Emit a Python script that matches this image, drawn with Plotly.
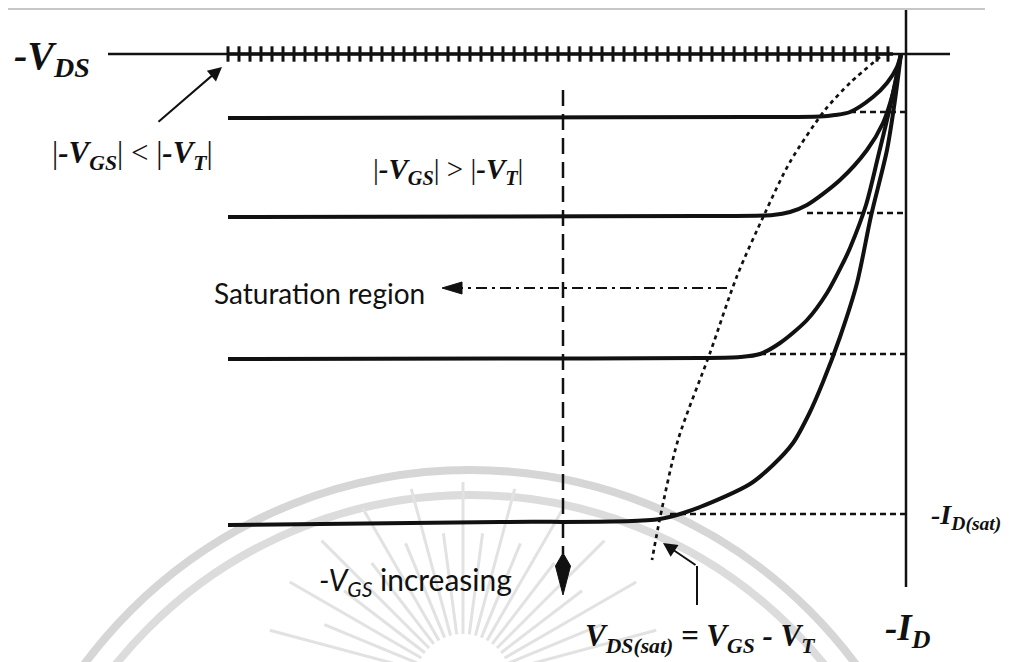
import numpy as np
import plotly.graph_objects as go

# Drawing units: V = |V_DS| measured leftwards from the origin,
# I = |I_D| measured downwards from the origin (1 unit = 1 px).

# Output characteristics, weakest gate drive first
v_curve_1 = [673, 400, 150, 81, 66, 51, 28, 14, 4, 0]
i_curve_1 = [64, 63.5, 63, 62.5, 61, 58, 43, 29, 13, 0]
v_curve_2 = [673, 400, 200, 128, 111, 94, 61, 34, 18, 8, 3, 0]
i_curve_2 = [163, 162.5, 162, 161, 158, 151, 126, 96, 69, 39, 16, 0]
v_curve_3 = [673, 400, 200, 161, 141, 121, 94, 74, 58, 51, 35, 23, 11, 0]
i_curve_3 = [305, 304.5, 304, 303, 300, 289, 266, 239, 209, 194, 151, 103, 53, 0]
v_curve_4 = [673, 401, 241, 201, 151, 128, 108, 92, 78, 61, 44, 30, 14, 6, 0]
i_curve_4 = [471, 468, 465, 453, 430, 411, 389, 360, 328, 283, 229, 162, 96, 46, 0]

# I_D(sat) guide of each curve and the V where that guide starts
sat_level = [58, 159, 300, 460]
sat_start = [51, 94, 141, 231]

# locus of V_DS(sat) = V_GS - V_T
vsat_v = [21, 50, 76, 111, 136, 164, 191, 223, 241, 249]
vsat_i = [3, 28, 56, 108, 159, 222, 299, 386, 464, 506]

# cutoff stretch of the V_DS axis (|V_GS| < |V_T|)
cutoff_from, cutoff_to = 673, 8

# ---------------------------------------------------------------- layout
W, H = 1010, 662
V_LEFT = 901          # V value at the left edge of the page
I_TOP = -54           # I value at the top edge of the page
V_RANGE = [V_LEFT, V_LEFT - W]
I_RANGE = [I_TOP + H, I_TOP]

INK = "#111111"
SERIF = "Liberation Serif"
SANS = "Lato"

fig = go.Figure()


def line(v, i, width=2.5, dash="solid", shape="linear", color=INK):
    fig.add_trace(go.Scatter(
        x=v, y=i, mode="lines", hoverinfo="skip",
        line=dict(color=color, width=width, dash=dash, shape=shape, smoothing=0.8),
    ))


# faint emblem behind the drawing
EMB_C = (431, 896)
for r, col in ((480, "#d6d6d6"), (455, "#dcdcdc")):
    fig.add_shape(type="circle", xref="x", yref="y",
                  x0=EMB_C[0] - r, x1=EMB_C[0] + r,
                  y0=EMB_C[1] - r, y1=EMB_C[1] + r,
                  line=dict(color=col, width=8), layer="below")
SUN = (438, 628)
for k, ang in enumerate(np.arange(195, 346, 7.5)):
    a = np.radians(ang)
    r0, r1 = 48, (200 if k % 2 == 0 else 150)
    fig.add_shape(type="line", xref="x", yref="y",
                  x0=SUN[0] - r0 * np.cos(a), y0=SUN[1] + r0 * np.sin(a),
                  x1=SUN[0] - r1 * np.cos(a), y1=SUN[1] + r1 * np.sin(a),
                  line=dict(color="#e2e2e2", width=3), layer="below")

# page rule at the top
line([V_LEFT - 8, V_LEFT - 985], [-45, -45], width=1.5, color="#b5b5b5")

# axes
line([793, -49], [0, 0], width=2.5)
line([cutoff_from, cutoff_to], [0, 0], width=3.5)
line([-5, -5], [-44, 533], width=2.5)

# cutoff hatch on the V_DS axis
hatch = np.arange(cutoff_from, cutoff_to - 1, -11)
fig.add_trace(go.Scatter(
    x=hatch, y=np.zeros_like(hatch), mode="markers", hoverinfo="skip",
    marker=dict(symbol="line-ns", size=11, line=dict(color=INK, width=3)),
))

# I_D(sat) guides
for lvl, v0 in zip(sat_level, sat_start):
    line([v0, -5], [lvl, lvl], width=2.4, dash="6px,4px")

# V_DS(sat) locus
line(vsat_v, vsat_i, width=2.7, dash="4px,4px", shape="spline")

# characteristics
for v, i in ((v_curve_1, i_curve_1), (v_curve_2, i_curve_2),
             (v_curve_3, i_curve_3), (v_curve_4, i_curve_4)):
    line(v, i, width=4, shape="spline")

# "-V_GS increasing" arrow
line([338, 338], [36, 500], width=2.5, dash="16px,8px")
fig.add_shape(type="path", xref="x", yref="y",
              path="M 338,499 L 345.5,512 L 338,541 L 330.5,512 Z",
              fillcolor=INK, line=dict(color=INK, width=1))

# saturation-region arrow
line([174, 440], [234, 234], width=2.2, dash="11px,5px,3px,5px")
fig.add_shape(type="path", xref="x", yref="y",
              path="M 459,234 L 439,228 L 439,240 Z",
              fillcolor=INK, line=dict(color=INK, width=1))

# V_DS(sat) pointer
line([204, 204], [551, 512], width=2)

annotations = [
    dict(x=679, y=13, ax=744, ay=69, axref="x", ayref="y", text="",
         showarrow=True, arrowhead=2, arrowsize=1.4, arrowwidth=2, arrowcolor=INK),
    dict(x=238, y=489, ax=204, ay=512, axref="x", ayref="y", text="",
         showarrow=True, arrowhead=2, arrowsize=1.4, arrowwidth=2, arrowcolor=INK),
]


def label(v, i, text, size, family=SERIF, anchor="center"):
    annotations.append(dict(x=v, y=i, text=text, showarrow=False,
                            xanchor=anchor, yanchor="middle",
                            font=dict(family=family, size=size, color=INK)))


label(889, 4, "<b><i>-V<sub>DS</sub></i></b>", 40, anchor="left")
label(769, 101, "|<b><i>-V<sub>GS</sub></i></b>| &lt; |<b><i>-V<sub>T</sub></i></b>|", 31)
label(453, 117, "|<b><i>-V<sub>GS</sub></i></b>| &gt; |<b><i>-V<sub>T</sub></i></b>|", 29)
label(582, 239, "Saturation region", 28, family=SANS)
label(486, 527, "<i>-V<sub>GS</sub></i> increasing", 30, family=SANS)
label(201, 584, "<b><i>V<sub>DS(sat)</sub> = V<sub>GS</sub> - V<sub>T</sub></i></b>", 31)
label(-65, 463, "<b><i>-I<sub>D(sat)</sub></i></b>", 28)
label(-7, 576, "<b><i>-I<sub>D</sub></i></b>", 37)

fig.update_layout(
    width=W, height=H, margin=dict(l=0, r=0, t=0, b=0),
    paper_bgcolor="white", plot_bgcolor="white", showlegend=False,
    xaxis=dict(range=V_RANGE, visible=False, fixedrange=True),
    yaxis=dict(range=I_RANGE, visible=False, fixedrange=True),
    annotations=annotations,
)

fig.write_html("out.html")
